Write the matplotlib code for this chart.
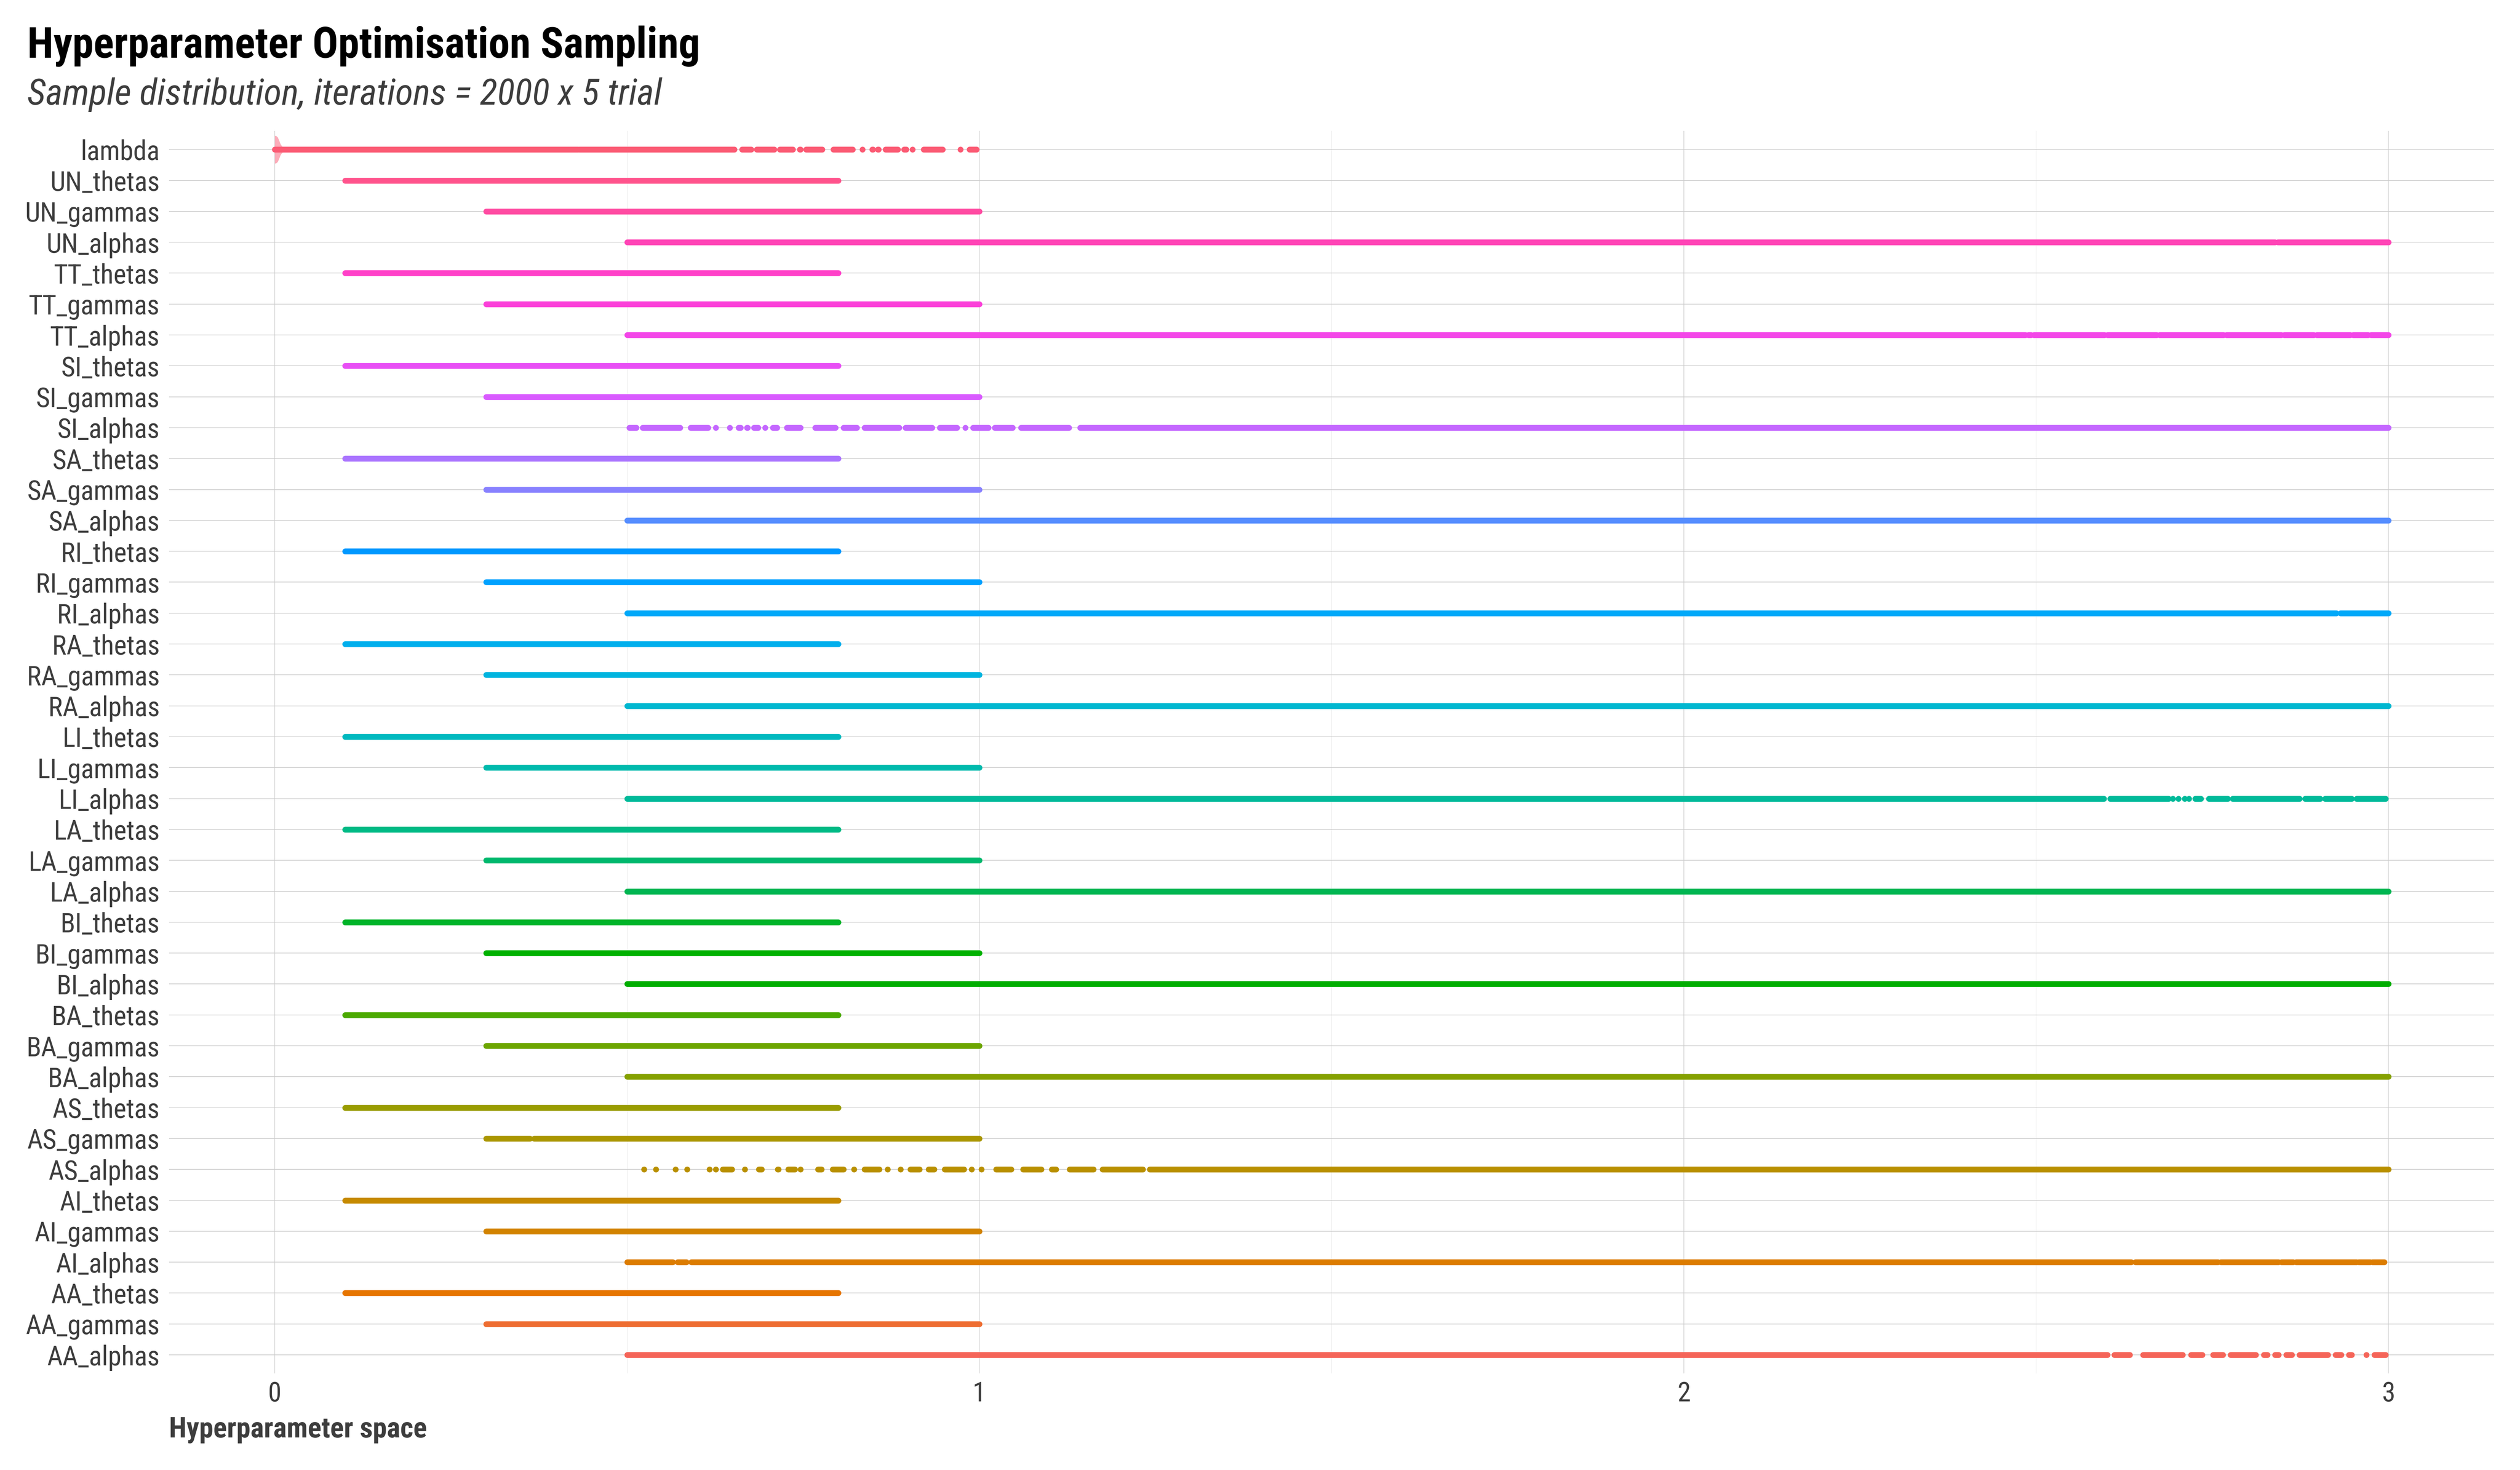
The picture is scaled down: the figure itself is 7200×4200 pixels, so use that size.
import numpy as np
import matplotlib
matplotlib.use("Agg")
import matplotlib.pyplot as plt

plt.rcParams['font.family'] = ['Liberation Sans Narrow', 'Roboto Condensed', 'Arial Narrow',
                               'DejaVu Sans', 'Roboto']
plt.rcParams['font.stretch'] = 'condensed'

# --- data -------------------------------------------------------------
groups = ["AA", "AI", "AS", "BA", "BI", "LA", "LI", "RA", "RI", "SA", "SI", "TT", "UN"]
params = ["alphas", "gammas", "thetas"]
categories = [g + "_" + p for g in groups for p in params] + ["lambda"]

# sampled range of each hyperparameter kind (dense bands)
param_range = {"alphas": (0.5, 3.0), "gammas": (0.3, 1.0), "thetas": (0.1, 0.8)}

# rows where samples are sparse: runs of overlapping points (start, end)
lambda_runs = [(0.0, 0.43), (0.432, 0.652), (0.663, 0.676), (0.684, 0.709), (0.717, 0.735),
               (0.745, 0.746), (0.754, 0.777), (0.793, 0.820), (0.834, 0.834), (0.848, 0.849),
               (0.856, 0.857), (0.867, 0.884), (0.893, 0.896), (0.905, 0.905), (0.921, 0.948),
               (0.973, 0.973), (0.986, 0.996)]
si_alphas_runs = [(0.503, 0.513), (0.522, 0.575), (0.590, 0.615), (0.626, 0.626), (0.646, 0.646),
                  (0.658, 0.661), (0.670, 0.671), (0.680, 0.686), (0.696, 0.696), (0.707, 0.713),
                  (0.727, 0.746), (0.767, 0.796), (0.807, 0.826), (0.837, 0.886), (0.895, 0.933),
                  (0.944, 0.968), (0.980, 0.980), (0.991, 1.013), (1.022, 1.047), (1.059, 1.127),
                  (1.143, 3.0)]
as_alphas_runs = [(0.524, 0.524), (0.541, 0.541), (0.569, 0.569), (0.585, 0.585), (0.617, 0.617),
                  (0.626, 0.626), (0.636, 0.649), (0.667, 0.667), (0.687, 0.691), (0.714, 0.715),
                  (0.729, 0.738), (0.746, 0.746), (0.771, 0.776), (0.792, 0.807), (0.822, 0.822),
                  (0.837, 0.858), (0.870, 0.870), (0.888, 0.888), (0.902, 0.915), (0.928, 0.936),
                  (0.951, 0.978), (0.989, 0.989), (1.003, 1.003), (1.024, 1.045), (1.062, 1.088),
                  (1.103, 1.109), (1.128, 1.162), (1.175, 1.232), (1.242, 3.0)]
aa_alphas_runs = [(0.5, 2.601), (2.611, 2.633), (2.652, 2.708), (2.720, 2.736), (2.751, 2.765),
                  (2.776, 2.812), (2.823, 2.828), (2.839, 2.844), (2.855, 2.863), (2.874, 2.914),
                  (2.925, 2.933), (2.944, 2.948), (2.969, 2.969), (2.980, 2.996)]
ai_alphas_runs = [(0.5, 0.565), (0.572, 0.584), (0.591, 2.635), (2.641, 2.758), (2.762, 2.844),
                  (2.848, 2.865), (2.869, 2.955), (2.958, 2.974), (2.977, 2.994)]
li_alphas_runs = [(0.5, 2.596), (2.605, 2.688), (2.694, 2.694), (2.702, 2.702), (2.711, 2.711),
                  (2.717, 2.717), (2.726, 2.734), (2.745, 2.772), (2.779, 2.874), (2.882, 2.903),
                  (2.910, 2.948), (2.955, 2.996)]
tt_alphas_runs = [(0.5, 2.485), (2.489, 2.493), (2.497, 2.597), (2.601, 2.671), (2.675, 2.766),
                  (2.770, 2.848), (2.852, 2.894), (2.898, 2.946), (2.950, 2.971), (2.975, 3.0)]
un_alphas_runs = [(0.5, 2.839), (2.843, 3.0)]
ri_alphas_runs = [(0.5, 2.926), (2.932, 3.0)]
as_gammas_runs = [(0.3, 0.362), (0.368, 1.0)]

sparse_runs = {"lambda": lambda_runs, "SI_alphas": si_alphas_runs, "AS_alphas": as_alphas_runs,
               "AA_alphas": aa_alphas_runs, "AI_alphas": ai_alphas_runs, "LI_alphas": li_alphas_runs,
               "TT_alphas": tt_alphas_runs, "UN_alphas": un_alphas_runs, "RI_alphas": ri_alphas_runs,
               "AS_gammas": as_gammas_runs}

# lambda density (violin) near zero: x, half width in row units
lambda_violin_x = [0.0, 0.002, 0.004, 0.006, 0.008, 0.010, 0.012, 0.015, 0.020, 0.030, 0.045]
lambda_violin_w = [0.45, 0.44, 0.40, 0.30, 0.18, 0.11, 0.08, 0.05, 0.03, 0.015, 0.0]


def hcl(h, c, l):
    # polarLUV -> sRGB (D65), like R's hcl()
    hr = np.radians(h)
    u, v = c * np.cos(hr), c * np.sin(hr)
    xn, yn, zn = 95.047, 100.0, 108.883
    y = yn * ((l + 16) / 116) ** 3 if l > 8 else yn * l / 903.3
    un = 4 * xn / (xn + 15 * yn + 3 * zn)
    vn = 9 * yn / (xn + 15 * yn + 3 * zn)
    q = u / (13 * l) + un
    r = v / (13 * l) + vn
    x = 9 * y * q / (4 * r)
    z = -x / 3 - 5 * y + 3 * y / r
    x, y, z = x / 100, y / 100, z / 100
    rgb = np.array([3.240479 * x - 1.537150 * y - 0.498535 * z,
                    -0.969256 * x + 1.875992 * y + 0.041556 * z,
                    0.055648 * x - 0.204043 * y + 1.057311 * z])
    rgb = np.where(rgb > 0.0031308, 1.055 * np.abs(rgb) ** (1 / 2.4) - 0.055, 12.92 * rgb)
    return tuple(np.clip(rgb, 0, 1))


n = len(categories)
colors = [hcl(15 + 360 / n * i, 115, 61) for i in range(n)]

# --- plot -------------------------------------------------------------
fig = plt.figure(figsize=(24, 14), dpi=300)
ax = fig.add_axes([0.0671, 0.0657, 0.9226, 0.8452])

pt_lw = 4.0
for i, cat in enumerate(categories):
    col = colors[i]
    if cat in sparse_runs:
        runs = sparse_runs[cat]
    else:
        runs = [param_range[cat.split("_")[1]]]
    if cat == "lambda":
        vx = np.array(lambda_violin_x)
        vw = np.array(lambda_violin_w)
        ax.fill_between(vx, i - vw, i + vw, color=col, alpha=0.5, lw=0, zorder=2)
    for a, b in runs:
        if b > a:
            ax.plot([a, b], [i, i], color=col, lw=pt_lw, solid_capstyle='round', zorder=3)
        else:
            ax.plot([a], [i], 'o', color=col, ms=pt_lw, mew=0, zorder=3)

ax.set_xlim(-0.15, 3.15)
ax.set_ylim(-0.6, n - 1 + 0.6)
ax.set_yticks(range(n))
ax.set_yticklabels(categories)
ax.set_xticks([0, 1, 2, 3])
ax.set_xticks([0.5, 1.5, 2.5], minor=True)
ax.set_xticklabels(["0", "1", "2", "3"])
ax.tick_params(axis='both', which='both', length=0, labelsize=18.5, labelcolor='#3d3d3d')
ax.tick_params(axis='y', pad=6.5)
ax.tick_params(axis='x', pad=5)
for s in ax.spines.values():
    s.set_visible(False)
ax.grid(axis='y', color='#cccccc', lw=0.45, zorder=0)
ax.grid(axis='x', which='major', color='#d4d4d4', lw=0.45, zorder=0)
ax.grid(axis='x', which='minor', color='#ebebeb', lw=0.35, zorder=0)
ax.set_axisbelow(True)

fig.text(0.0108, 0.9607, "Hyperparameter Optimisation Sampling", fontsize=29.2,
         fontweight='bold', color='black', va='baseline', ha='left')
fig.text(0.0108, 0.9288, "Sample distribution, iterations = 2000 x 5 trial", fontsize=25,
         style='italic', color='#3d3d3d', va='baseline', ha='left')
fig.text(0.0671, 0.0221, "Hyperparameter space", fontsize=19.5, fontweight='bold',
         color='#3d3d3d', va='baseline', ha='left')

fig.savefig("out.png", dpi=300, facecolor='white')
